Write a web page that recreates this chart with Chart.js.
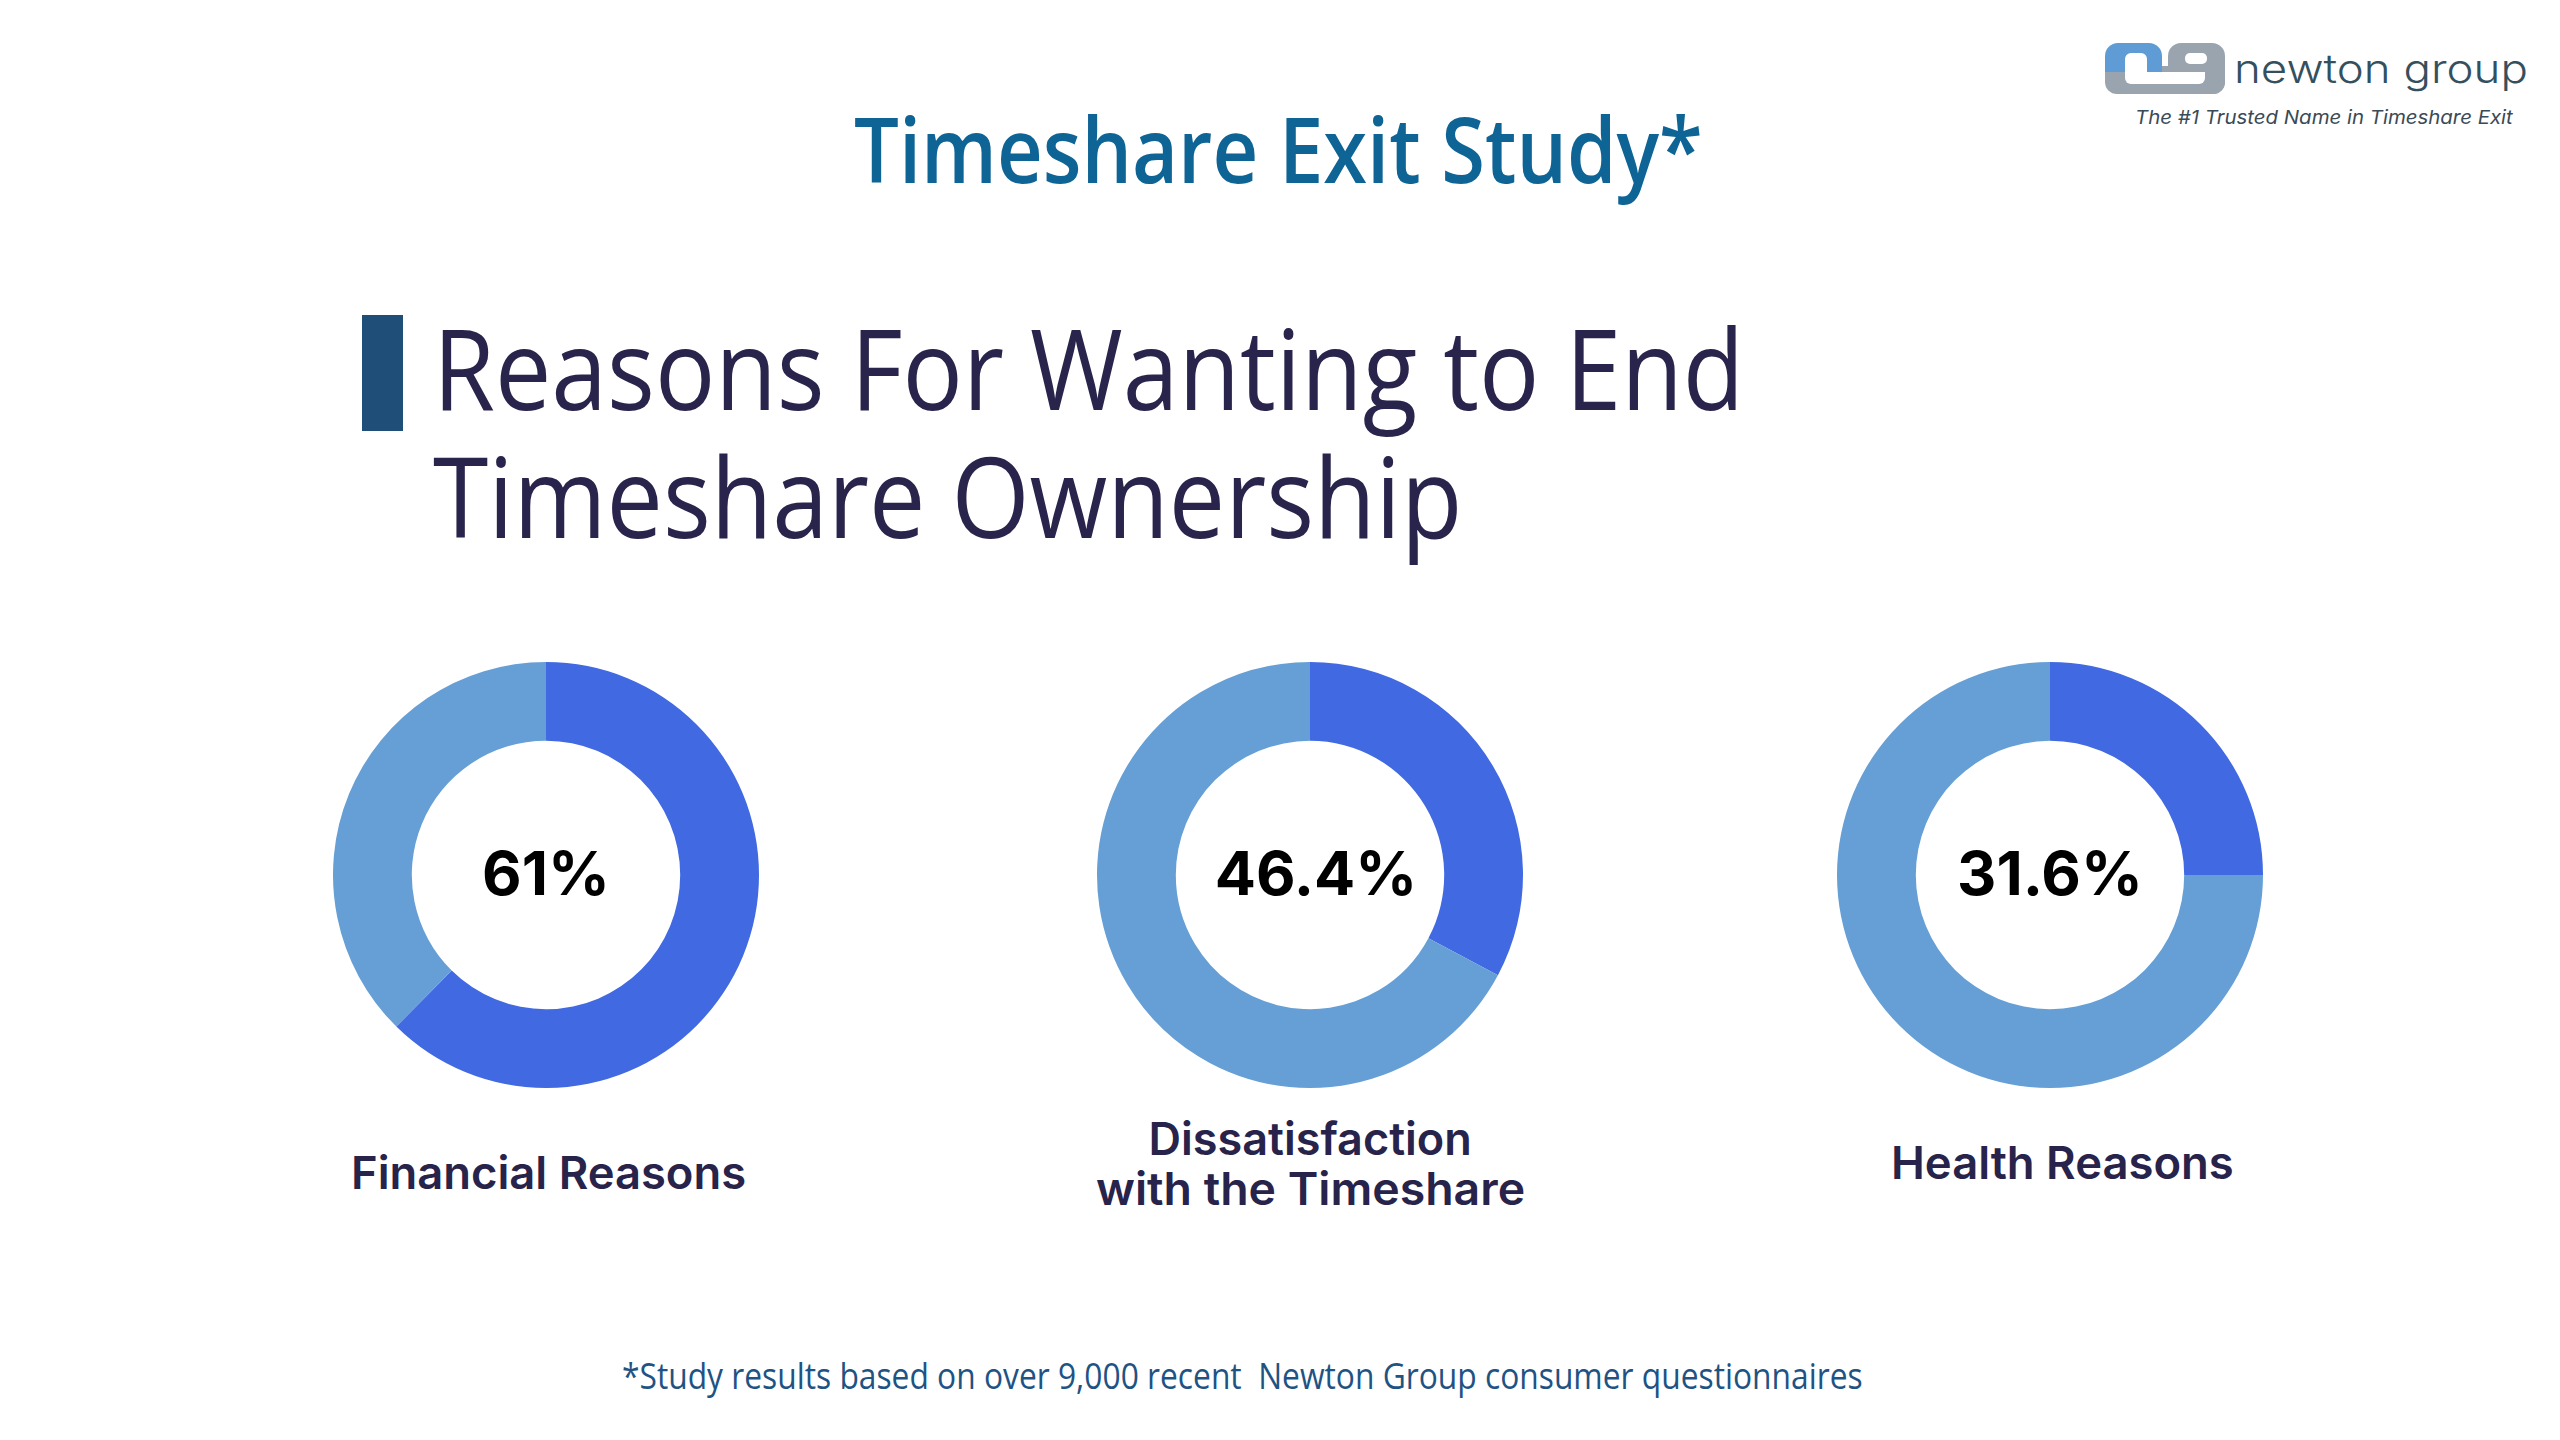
<!DOCTYPE html>
<html>
<head>
<meta charset="utf-8">
<title>Timeshare Exit Study</title>
<script src="https://cdn.jsdelivr.net/npm/chart.js@4.4.1/dist/chart.umd.min.js"></script>
<style>
  html, body { margin: 0; padding: 0; background: #fff; }
  #page { position: relative; width: 2560px; height: 1440px; overflow: hidden; background: #fff; }
  .txt { position: absolute; white-space: nowrap; line-height: 1; transform-origin: 0 0; }
  .donut { position: absolute; }
  .logo-part { position: absolute; }
</style>
</head>
<body>
<div id="page">

  <!-- logo -->
  <div class="logo-part" style="left:2105px;top:66px;width:120px;height:28px;background:#9aa4ae;border-radius:0 0 12px 12px;"></div>
  <div class="logo-part" style="left:2168px;top:43px;width:57px;height:51px;background:#9aa4ae;border-radius:13px 13px 12px 12px;"></div>
  <div class="logo-part" style="left:2105px;top:43px;width:57px;height:29px;background:#5f9bd4;border-radius:13px 13px 0 0;"></div>
  <div class="logo-part" style="left:2125px;top:53px;width:22px;height:19px;background:#fff;border-radius:6px 6px 0 0;"></div>
  <div class="logo-part" style="left:2125px;top:72px;width:80px;height:12px;background:#fff;border-radius:0 0 6px 6px;"></div>
  <div class="logo-part" style="left:2185px;top:53px;width:22px;height:11px;background:#fff;border-radius:5px;"></div>
  <div class="txt" data-w="294" style="left:2234px;top:44px;font:300 40px Inter;color:#34505e;">newton group</div>
  <div class="txt" data-w="378" style="left:2135px;top:106px;font:italic 400 19px Inter;color:#3a4a56;">The #1 Trusted Name in Timeshare Exit</div>

  <div class="txt" data-w="849" data-cx="1278" style="top:87px;font:600 90px 'Open Sans';color:#0f6496;">Timeshare Exit Study*</div>

  <div style="position:absolute;left:362px;top:315px;width:41px;height:116px;background:#1f4e79;"></div>
  <div class="txt" data-w="1311" style="left:433px;top:303px;font:500 112px 'Open Sans';line-height:128px;color:#29244b;">Reasons For Wanting to End<br>Timeshare Ownership</div>

  <canvas id="donut0" class="donut" width="460" height="460" style="left:316px;top:645px;"></canvas>
  <canvas id="donut1" class="donut" width="460" height="460" style="left:1080px;top:645px;"></canvas>
  <canvas id="donut2" class="donut" width="460" height="460" style="left:1820px;top:645px;"></canvas>

  <div class="txt" data-w="395" data-cx="548" style="top:1145px;font:600 45px Inter;color:#28234a;">Financial Reasons</div>
  <div class="txt" data-w="323" data-cx="1310" style="top:1111px;font:600 45px Inter;color:#28234a;">Dissatisfaction</div>
  <div class="txt" data-w="429" data-cx="1310" style="top:1161px;font:600 45px Inter;color:#28234a;">with the Timeshare</div>
  <div class="txt" data-w="343" data-cx="2062" style="top:1135px;font:600 45px Inter;color:#28234a;">Health Reasons</div>

  <div class="txt" data-w="1241" data-cx="1242" style="top:1351px;font:400 36px 'Open Sans';color:#1e5383;">*Study results based on over 9,000 recent&nbsp; Newton Group consumer questionnaires</div>
</div>

<script>
// values (share of the ring that is dark blue)
var categories = ['Financial Reasons', 'Dissatisfaction with the Timeshare', 'Health Reasons'];
var centerLabels = ['61%', '46.4%', '31.6%'];
var darkShare = [62.4, 32.8, 25];
var lightShare = [37.6, 67.2, 75];

var darkBlue = '#4169e1';
var lightBlue = '#659fd5';

// draws the big percentage in the hole
var centerText = {
    id: 'centerText',
    afterDraw: function(chart, args, opts) {
        var arc = chart.getDatasetMeta(0).data[0];
        var ctx = chart.ctx;
        ctx.save();
        ctx.font = '700 61px Inter';
        ctx.fillStyle = '#000';
        ctx.textAlign = 'center';
        ctx.textBaseline = 'alphabetic';
        ctx.fillText(opts.text, arc.x + (opts.dx || 0), arc.y + 20);
        ctx.restore();
    }
};

function makeDonut(i) {
    var ctx = document.getElementById('donut' + i).getContext('2d');
    return new Chart(ctx, {
        type: 'doughnut',
        data: {
            labels: [categories[i], 'Other'],
            datasets: [{
                data: [darkShare[i], lightShare[i]],
                backgroundColor: [darkBlue, lightBlue],
                borderWidth: 0
            }]
        },
        options: {
            responsive: false,
            animation: false,
            radius: 213,
            cutout: '63%',
            layout: { padding: 0 },
            plugins: {
                legend: { display: false },
                tooltip: { enabled: false },
                centerText: { text: centerLabels[i], dx: i == 1 ? 6 : 0 }
            }
        },
        plugins: [centerText]
    });
}

for (var i = 0; i < categories.length; i++) {
    makeDonut(i);
}

// squeeze text blocks to the widths seen in the slide
function fitTexts() {
    var els = document.querySelectorAll('.txt[data-w]');
    for (var k = 0; k < els.length; k++) {
        var el = els[k];
        el.style.transform = 'none';
        var target = +el.dataset.w;
        var s = target / el.offsetWidth;
        el.style.transform = 'scaleX(' + s + ')';
        if (el.dataset.cx) {
            el.style.left = (+el.dataset.cx - target / 2) + 'px';
        }
    }
}
fitTexts();
if (document.fonts) document.fonts.ready.then(fitTexts);
</script>
</body>
</html>
